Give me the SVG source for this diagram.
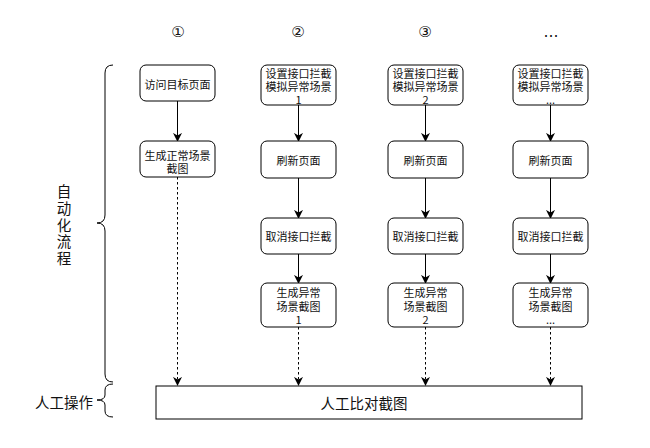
<svg xmlns="http://www.w3.org/2000/svg" width="650" height="448" viewBox="0 0 650 448">
<style>
.box{fill:#fff;stroke:#000;stroke-width:1}
.t{font-family:"Noto Sans CJK SC","Noto Sans",sans-serif;font-size:11px;fill:#111;text-anchor:middle;dominant-baseline:central}
.big{font-size:14.5px}
.num{font-family:"DejaVu Sans",sans-serif;font-size:15px;fill:#111;text-anchor:middle;dominant-baseline:central}
.c{stroke:#000;stroke-width:1;fill:none}
.d{stroke-dasharray:2.5 2.5}
</style>
<defs>
<marker id="a" viewBox="0 0 10 10" refX="9" refY="5" markerWidth="9" markerHeight="9" markerUnits="userSpaceOnUse" orient="auto">
<path d="M0,0 L10,5 L0,10 L3,5 Z" fill="#000"/>
</marker>
</defs>
<rect width="650" height="448" fill="#fff"/>
<g id="labels">
<text class="num" x="178" y="32">①</text>
<text class="num" x="298" y="32">②</text>
<text class="num" x="425" y="32">③</text>
<text class="num" x="551" y="32">…</text>
<text class="t big"><tspan x="64" y="190">自</tspan><tspan x="64" y="207">动</tspan><tspan x="64" y="223.5">化</tspan><tspan x="64" y="240">流</tspan><tspan x="64" y="256.5">程</tspan></text>
<text class="t big" x="64" y="401">人工操作</text>
</g>
<g id="braces">
<path class="c" d="M113,65 Q105,65 105,73 L105,215 Q105,223 97,223 Q105,223 105,231 L105,374 Q105,382 113,382"/>
<path class="c" d="M113,384 Q105,384 105,390 L105,395 Q105,400 97,400 Q105,400 105,405 L105,411 Q105,417 113,417"/>
</g>
<g id="connectors">
<line class="c" x1="177.5" y1="101" x2="177.5" y2="141" marker-end="url(#a)"/>
<line class="c d" x1="177.5" y1="177" x2="177.5" y2="385" marker-end="url(#a)"/>
<line class="c" x1="298.5" y1="105" x2="298.5" y2="141" marker-end="url(#a)"/>
<line class="c" x1="298.5" y1="178" x2="298.5" y2="218" marker-end="url(#a)"/>
<line class="c" x1="298.5" y1="254" x2="298.5" y2="283" marker-end="url(#a)"/>
<line class="c d" x1="298.5" y1="327" x2="298.5" y2="385" marker-end="url(#a)"/>
<line class="c" x1="425.5" y1="105" x2="425.5" y2="141" marker-end="url(#a)"/>
<line class="c" x1="425.5" y1="178" x2="425.5" y2="218" marker-end="url(#a)"/>
<line class="c" x1="425.5" y1="254" x2="425.5" y2="283" marker-end="url(#a)"/>
<line class="c d" x1="425.5" y1="327" x2="425.5" y2="385" marker-end="url(#a)"/>
<line class="c" x1="550.5" y1="105" x2="550.5" y2="141" marker-end="url(#a)"/>
<line class="c" x1="550.5" y1="178" x2="550.5" y2="218" marker-end="url(#a)"/>
<line class="c" x1="550.5" y1="254" x2="550.5" y2="283" marker-end="url(#a)"/>
<line class="c d" x1="550.5" y1="327" x2="550.5" y2="385" marker-end="url(#a)"/>
</g>
<g id="n1a"><rect class="box" x="140" y="65" width="75" height="36" rx="6"/><text class="t" x="177.5" y="83.5">访问目标页面</text></g>
<g id="n1b"><rect class="box" x="140" y="141" width="75" height="36" rx="6"/><text class="t"><tspan x="177.5" y="154.5">生成正常场景</tspan><tspan x="177.5" y="168">截图</tspan></text></g>

<g id="n2a"><rect class="box" x="261" y="65" width="75" height="40" rx="6"/><text class="t"><tspan x="298.5" y="72.5">设置接口拦截</tspan><tspan x="298.5" y="86">模拟异常场景</tspan><tspan x="298.5" y="99">1</tspan></text></g>
<g id="n2b"><rect class="box" x="261" y="141" width="75" height="37" rx="6"/><text class="t" x="298.5" y="159.5">刷新页面</text></g>
<g id="n2c"><rect class="box" x="261" y="218" width="75" height="36" rx="6"/><text class="t" x="298.5" y="236">取消接口拦截</text></g>
<g id="n2d"><rect class="box" x="261" y="283" width="75" height="44" rx="6"/><text class="t"><tspan x="298.5" y="292">生成异常</tspan><tspan x="298.5" y="305.5">场景截图</tspan><tspan x="298.5" y="319">1</tspan></text></g>

<g id="n3a"><rect class="box" x="388" y="65" width="75" height="40" rx="6"/><text class="t"><tspan x="425.5" y="72.5">设置接口拦截</tspan><tspan x="425.5" y="86">模拟异常场景</tspan><tspan x="425.5" y="99">2</tspan></text></g>
<g id="n3b"><rect class="box" x="388" y="141" width="75" height="37" rx="6"/><text class="t" x="425.5" y="159.5">刷新页面</text></g>
<g id="n3c"><rect class="box" x="388" y="218" width="75" height="36" rx="6"/><text class="t" x="425.5" y="236">取消接口拦截</text></g>
<g id="n3d"><rect class="box" x="388" y="283" width="75" height="44" rx="6"/><text class="t"><tspan x="425.5" y="292">生成异常</tspan><tspan x="425.5" y="305.5">场景截图</tspan><tspan x="425.5" y="319">2</tspan></text></g>

<g id="n4a"><rect class="box" x="513" y="65" width="75" height="40" rx="6"/><text class="t"><tspan x="550.5" y="72.5">设置接口拦截</tspan><tspan x="550.5" y="86">模拟异常场景</tspan><tspan x="550.5" y="98.5">...</tspan></text></g>
<g id="n4b"><rect class="box" x="513" y="141" width="75" height="37" rx="6"/><text class="t" x="550.5" y="159.5">刷新页面</text></g>
<g id="n4c"><rect class="box" x="513" y="218" width="75" height="36" rx="6"/><text class="t" x="550.5" y="236">取消接口拦截</text></g>
<g id="n4d"><rect class="box" x="513" y="283" width="75" height="44" rx="6"/><text class="t"><tspan x="550.5" y="292">生成异常</tspan><tspan x="550.5" y="305.5">场景截图</tspan><tspan x="550.5" y="318.5">...</tspan></text></g>

<g id="n5"><rect class="box" x="156" y="386" width="426" height="33"/><text class="t big" x="364" y="402.5">人工比对截图</text></g>
</svg>
